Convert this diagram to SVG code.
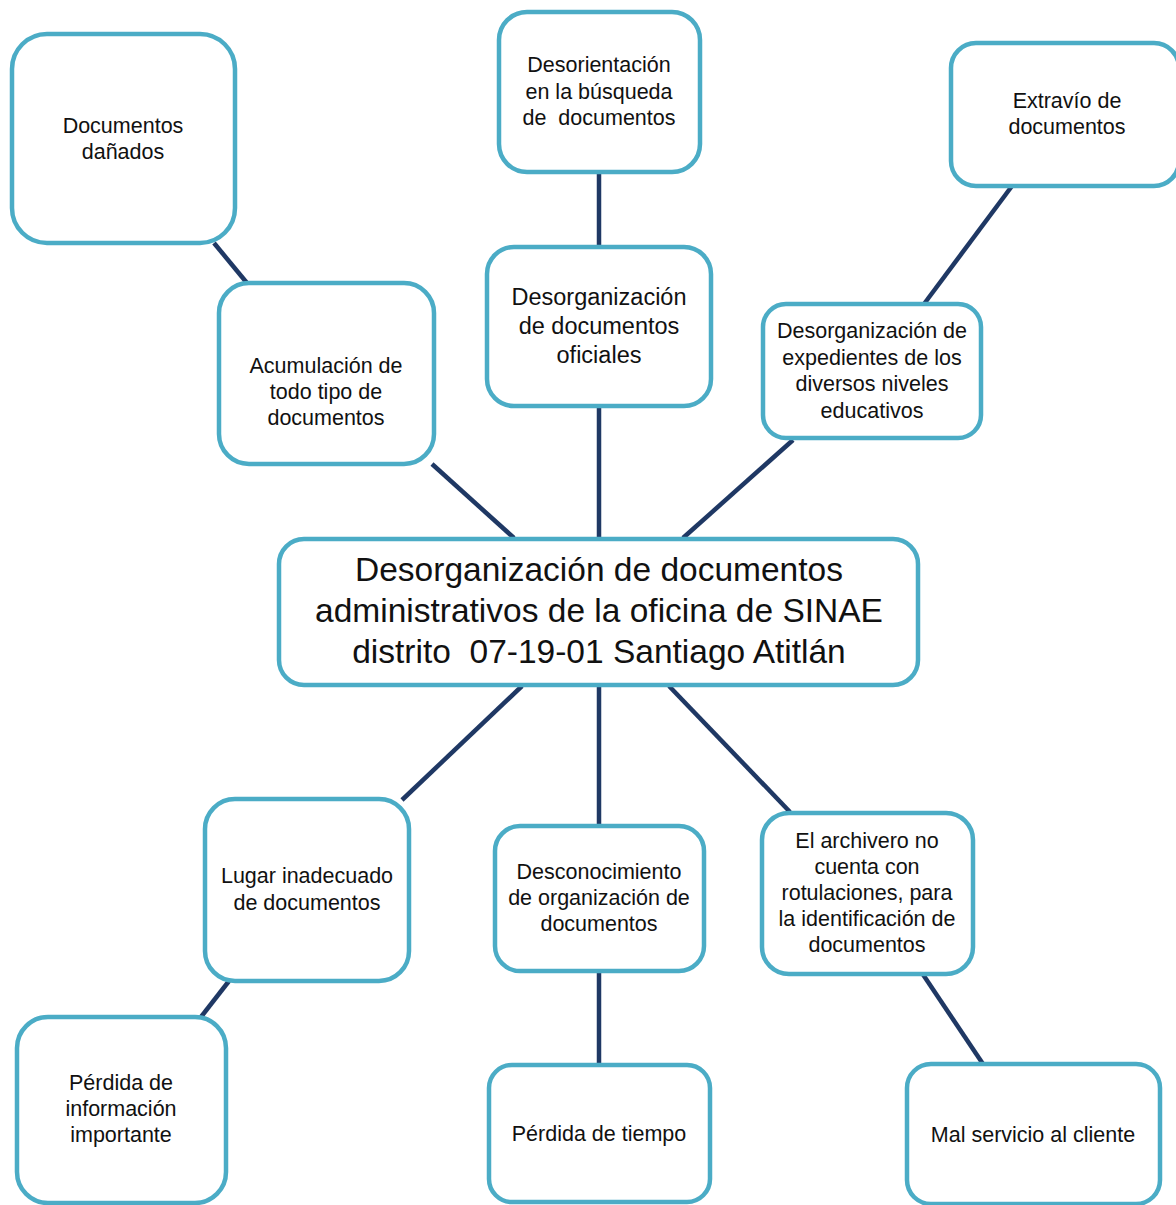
<svg xmlns="http://www.w3.org/2000/svg" width="1176" height="1205" viewBox="0 0 1176 1205">
<style>
.box{fill:#ffffff;stroke:#4BACC6;stroke-width:4.5}
.lnk{stroke:#1F3864;stroke-width:4.5;fill:none}
text{font-family:"Liberation Sans",Arial,sans-serif;fill:#111111;text-anchor:middle}
.s{font-size:21.5px}
.m{font-size:23.5px}
.l{font-size:33.5px}
</style>
<rect width="1176" height="1205" fill="#ffffff"/>
<g id="connectors">
<line class="lnk" x1="214" y1="243" x2="247" y2="283"/>
<line class="lnk" x1="432" y1="464" x2="514" y2="538"/>
<line class="lnk" x1="599" y1="172" x2="599" y2="247"/>
<line class="lnk" x1="599" y1="406" x2="599" y2="538"/>
<line class="lnk" x1="1012" y1="186" x2="924" y2="304"/>
<line class="lnk" x1="793" y1="440" x2="683" y2="538"/>
<line class="lnk" x1="522" y1="686" x2="402" y2="800"/>
<line class="lnk" x1="229" y1="981" x2="201" y2="1017"/>
<line class="lnk" x1="599" y1="686" x2="599" y2="826"/>
<line class="lnk" x1="599" y1="970" x2="599" y2="1065"/>
<line class="lnk" x1="669" y1="686" x2="790" y2="812"/>
<line class="lnk" x1="922" y1="973" x2="983" y2="1064"/>
</g>
<g id="n-danados">
<rect class="box" x="12" y="34" width="223" height="209" rx="35"/>
<text class="s"><tspan x="123" y="133">Documentos</tspan><tspan x="123" y="159">dañados</tspan></text>
</g>
<g id="n-desorientacion">
<rect class="box" x="499" y="12" width="201" height="160" rx="28"/>
<text class="s" xml:space="preserve"><tspan x="599" y="72">Desorientación</tspan><tspan x="599" y="99">en la búsqueda</tspan><tspan x="599" y="125">de  documentos</tspan></text>
</g>
<g id="n-extravio">
<rect class="box" x="951" y="43" width="228" height="143" rx="25"/>
<text class="s"><tspan x="1067" y="108">Extravío de</tspan><tspan x="1067" y="134">documentos</tspan></text>
</g>
<g id="n-acumulacion">
<rect class="box" x="219" y="283" width="215" height="181" rx="30"/>
<text class="s"><tspan x="326" y="373">Acumulación de</tspan><tspan x="326" y="399">todo tipo de</tspan><tspan x="326" y="425">documentos</tspan></text>
</g>
<g id="n-oficiales">
<rect class="box" x="487" y="247" width="224" height="159" rx="27"/>
<text class="m"><tspan x="599" y="305">Desorganización</tspan><tspan x="599" y="334">de documentos</tspan><tspan x="599" y="363">oficiales</tspan></text>
</g>
<g id="n-expedientes">
<rect class="box" x="763" y="304" width="218" height="134" rx="23"/>
<text class="s"><tspan x="872" y="338">Desorganización de</tspan><tspan x="872" y="365">expedientes de los</tspan><tspan x="872" y="391">diversos niveles</tspan><tspan x="872" y="418">educativos</tspan></text>
</g>
<g id="n-central">
<rect class="box" x="279" y="539" width="639" height="146" rx="25"/>
<text class="l" xml:space="preserve"><tspan x="599" y="581">Desorganización de documentos</tspan><tspan x="599" y="622">administrativos de la oficina de SINAE</tspan><tspan x="599" y="663">distrito  07-19-01 Santiago Atitlán</tspan></text>
</g>
<g id="n-lugar">
<rect class="box" x="205" y="799" width="204" height="182" rx="30"/>
<text class="s"><tspan x="307" y="883">Lugar inadecuado</tspan><tspan x="307" y="910">de documentos</tspan></text>
</g>
<g id="n-desconocimiento">
<rect class="box" x="495" y="826" width="209" height="145" rx="25"/>
<text class="s"><tspan x="599" y="879">Desconocimiento</tspan><tspan x="599" y="905">de organización de</tspan><tspan x="599" y="931">documentos</tspan></text>
</g>
<g id="n-archivero">
<rect class="box" x="762" y="813" width="211" height="161" rx="27"/>
<text class="s"><tspan x="867" y="848">El archivero no</tspan><tspan x="867" y="874">cuenta con</tspan><tspan x="867" y="900">rotulaciones, para</tspan><tspan x="867" y="926">la identificación de</tspan><tspan x="867" y="952">documentos</tspan></text>
</g>
<g id="n-perdida-info">
<rect class="box" x="17" y="1017" width="209" height="186" rx="31"/>
<text class="s"><tspan x="121" y="1090">Pérdida de</tspan><tspan x="121" y="1116">información</tspan><tspan x="121" y="1142">importante</tspan></text>
</g>
<g id="n-perdida-tiempo">
<rect class="box" x="489" y="1065" width="221" height="137" rx="23"/>
<text class="s"><tspan x="599" y="1141">Pérdida de tiempo</tspan></text>
</g>
<g id="n-mal-servicio">
<rect class="box" x="907" y="1064" width="253" height="140" rx="24"/>
<text class="s"><tspan x="1033" y="1142">Mal servicio al cliente</tspan></text>
</g>
</svg>
